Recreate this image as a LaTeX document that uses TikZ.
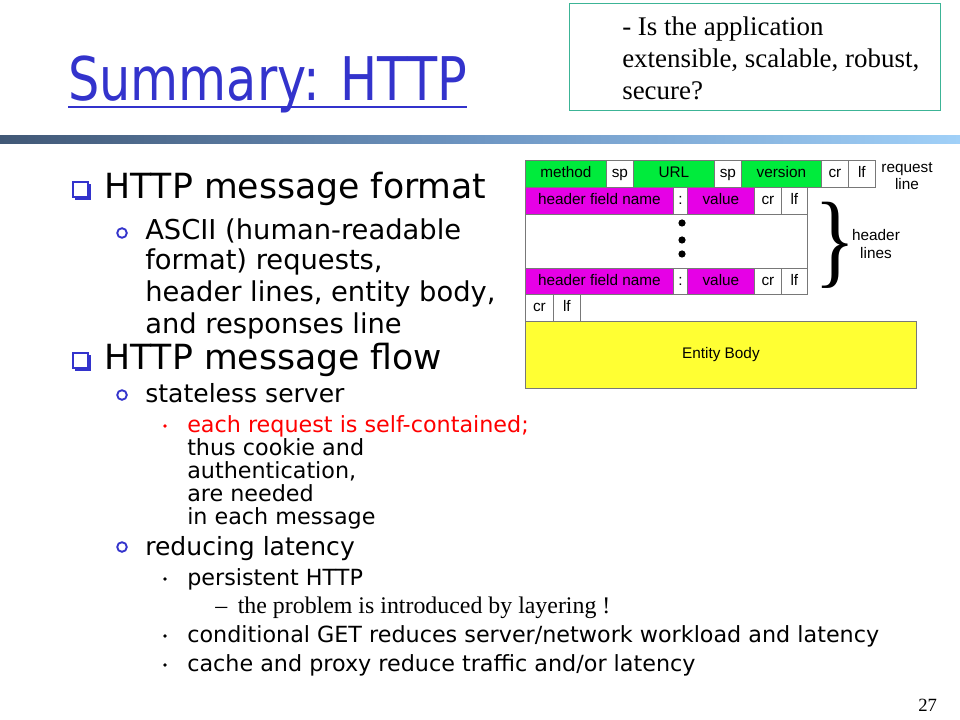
\documentclass[tikz,border=0pt]{standalone}
\usepackage{fontspec}
\setmainfont{DejaVu Sans}
\newfontfamily\comic{DejaVu Sans}
\newfontfamily\tms{Liberation Serif}
\newfontfamily\arl{Liberation Sans}
\usetikzlibrary{positioning}
\definecolor{titleblue}{RGB}{51,51,204}
\definecolor{boxteal}{RGB}{60,180,150}
\definecolor{cgreen}{RGB}{0,235,60}
\definecolor{cmag}{RGB}{230,0,230}
\definecolor{cyel}{RGB}{255,255,51}
\definecolor{cgray}{RGB}{120,120,120}
\definecolor{barA}{RGB}{65,88,118}
\definecolor{barB}{RGB}{110,150,195}
\definecolor{barC}{RGB}{160,208,248}
\tikzset{
  cellbox/.style={draw=cgray, line width=0.6pt, inner sep=0pt, anchor=north west, text height=8.2pt, text depth=2.2pt, font=\arl\fontsize{11.5}{13}\selectfont},
  lone/.style={anchor=base west, inner sep=0pt, font=\comic\fontsize{26}{30}\selectfont},
  ltwo/.style={anchor=base west, inner sep=0pt, font=\comic\fontsize{20.5}{24}\selectfont},
  ltwos/.style={anchor=base west, inner sep=0pt, font=\comic\fontsize{18.8}{22}\selectfont},
  lthree/.style={anchor=base west, inner sep=0pt, font=\comic\fontsize{16.7}{20}\selectfont},
  tline/.style={anchor=base west, inner sep=0pt, font=\tms\fontsize{17.9}{21}\selectfont},
  dlabel/.style={inner sep=0pt, font=\arl\fontsize{11.5}{13}\selectfont},
}
\newcommand{\cellat}[7]{\node[cellbox, fill=#6, minimum width=#4*0.75pt, minimum height=#5*0.75pt] (#1) at (#2,#3) {#7};}
\newcommand{\sqbullet}[3]{%
  \fill[titleblue] (#1+2,#2+2) rectangle (#1+18,#2+18);
  \draw[titleblue, fill=white, line width=1pt] (#1,#2) rectangle (#1+15,#2+15);
  \node[inner sep=0pt] (#3) at (#1+8,#2+8) {};}
\newcommand{\cbullet}[3]{%
  \draw[titleblue, line width=1.4pt] (#1,#2) circle[radius=4.8];
  \node[inner sep=0pt] (#3) at (#1,#2) {};}
\newcommand{\dbullet}[4]{\fill[#3] (#1,#2) circle[radius=1.8]; \node[inner sep=0pt] (#4) at (#1,#2) {};}
\begin{document}
\begin{tikzpicture}[x=0.75pt,y=-0.75pt]
\useasboundingbox (0,0) rectangle (960,720);
\fill[white] (0,0) rectangle (960,720);
% title
\node[anchor=base west, inner sep=0pt, text=titleblue, font=\comic\fontsize{37}{40}\selectfont] (title) at (68,101) {\scalebox{1}[1.22]{Summary: HTTP}};
\draw[titleblue, line width=2.2pt] (title.south west |- 0,107) -- (title.south east |- 0,107);
% note box
\node[draw=boxteal, line width=0.8pt, anchor=north west, minimum width=371*0.75pt, minimum height=107*0.75pt, inner sep=0pt] (note) at (569,3) {};
\node[tline, font=\tms\fontsize{20.2}{24}\selectfont] (n1) at (622,36) {- Is the application};
\node[tline, font=\tms\fontsize{20.2}{24}\selectfont] (n2) at (622,68) {extensible, scalable, robust,};
\node[tline, font=\tms\fontsize{20.2}{24}\selectfont] (n3) at (622,100) {secure?};
% bar
\shade[left color=barA, right color=barC, middle color=barB] (0,136) rectangle (960,144);
% bullets text
\sqbullet{73}{182}{b1}
\node[lone] (t1) at (104,199) {HTTP message format};
\cbullet{122}{233}{b2}
\node[ltwo] (t2a) at (145,240) {ASCII (human-readable};
\node[ltwo] (t2b) at (145,270) {format) requests,};
\node[ltwo] (t2c) at (145,301) {header lines, entity body,};
\node[ltwo] (t2d) at (145,333) {and responses line};
\sqbullet{73}{353}{b3}
\node[lone] (t3) at (104,369) {HTTP message flow};
\cbullet{122}{395}{b4}
\node[ltwos] (t4) at (145,402) {stateless server};
\dbullet{165}{426}{red}{b5}
\node[lthree, text=red] (t5a) at (187,432) {each request is self-contained;};
\node[lthree] (t5b) at (187,455) {thus cookie and};
\node[lthree] (t5c) at (187,478) {authentication,};
\node[lthree] (t5d) at (187,501) {are needed};
\node[lthree] (t5e) at (187,524) {in each message};
\cbullet{122}{547}{b6}
\node[ltwos] (t6) at (145,555) {reducing latency};
\dbullet{165}{579}{black}{b7}
\node[lthree] (t7) at (187,585) {persistent HTTP};
\node[tline] (t8) at (215,613) {–\hspace{8pt}the problem is introduced by layering !};
\dbullet{165}{636}{black}{b9}
\node[lthree] (t9) at (187,642) {conditional GET reduces server/network workload and latency};
\dbullet{165}{665}{black}{b10}
\node[lthree] (t10) at (187,671) {cache and proxy reduce traffic and/or latency};
\node[tline, font=\tms\fontsize{14}{16}\selectfont] (pg) at (918,711) {27};
% diagram
\cellat{c11}{525}{160}{81}{27}{cgreen}{method}
\cellat{c12}{606}{160}{27}{27}{white}{sp}
\cellat{c13}{633}{160}{81}{27}{cgreen}{URL}
\cellat{c14}{714}{160}{27}{27}{white}{sp}
\cellat{c15}{741}{160}{80}{27}{cgreen}{version}
\cellat{c16}{821}{160}{27}{27}{white}{cr}
\cellat{c17}{848}{160}{27}{27}{white}{lf}
\cellat{c21}{525}{187}{148}{27}{cmag}{header field name}
\cellat{c22}{673}{187}{14}{27}{white}{:}
\cellat{c23}{687}{187}{67}{27}{cmag}{value}
\cellat{c24}{754}{187}{27}{27}{white}{cr}
\cellat{c25}{781}{187}{26}{27}{white}{lf}
\cellat{c3}{525}{214}{282}{54}{white}{}
\cellat{c41}{525}{268}{148}{26}{cmag}{header field name}
\cellat{c42}{673}{268}{14}{26}{white}{:}
\cellat{c43}{687}{268}{67}{26}{cmag}{value}
\cellat{c44}{754}{268}{27}{26}{white}{cr}
\cellat{c45}{781}{268}{26}{26}{white}{lf}
\cellat{c51}{525}{294}{28}{27}{white}{cr}
\cellat{c52}{553}{294}{27}{27}{white}{lf}
\cellat{c6}{525}{321}{391}{67}{cyel}{Entity Body}
\fill (682,223) circle[radius=3.6];
\fill (682,240) circle[radius=3.6];
\fill (682,254) circle[radius=3.6];
\node[dlabel, align=center] (rl) at (907,176) {request\\line};
\node[dlabel, align=center] (hl) at (876,244) {header\\lines};
\node[inner sep=0pt, font=\tms\fontsize{68}{68}\selectfont] (br) at (835,245) {\scalebox{0.95}[1.15]{\}}};
\end{tikzpicture}
\end{document}
